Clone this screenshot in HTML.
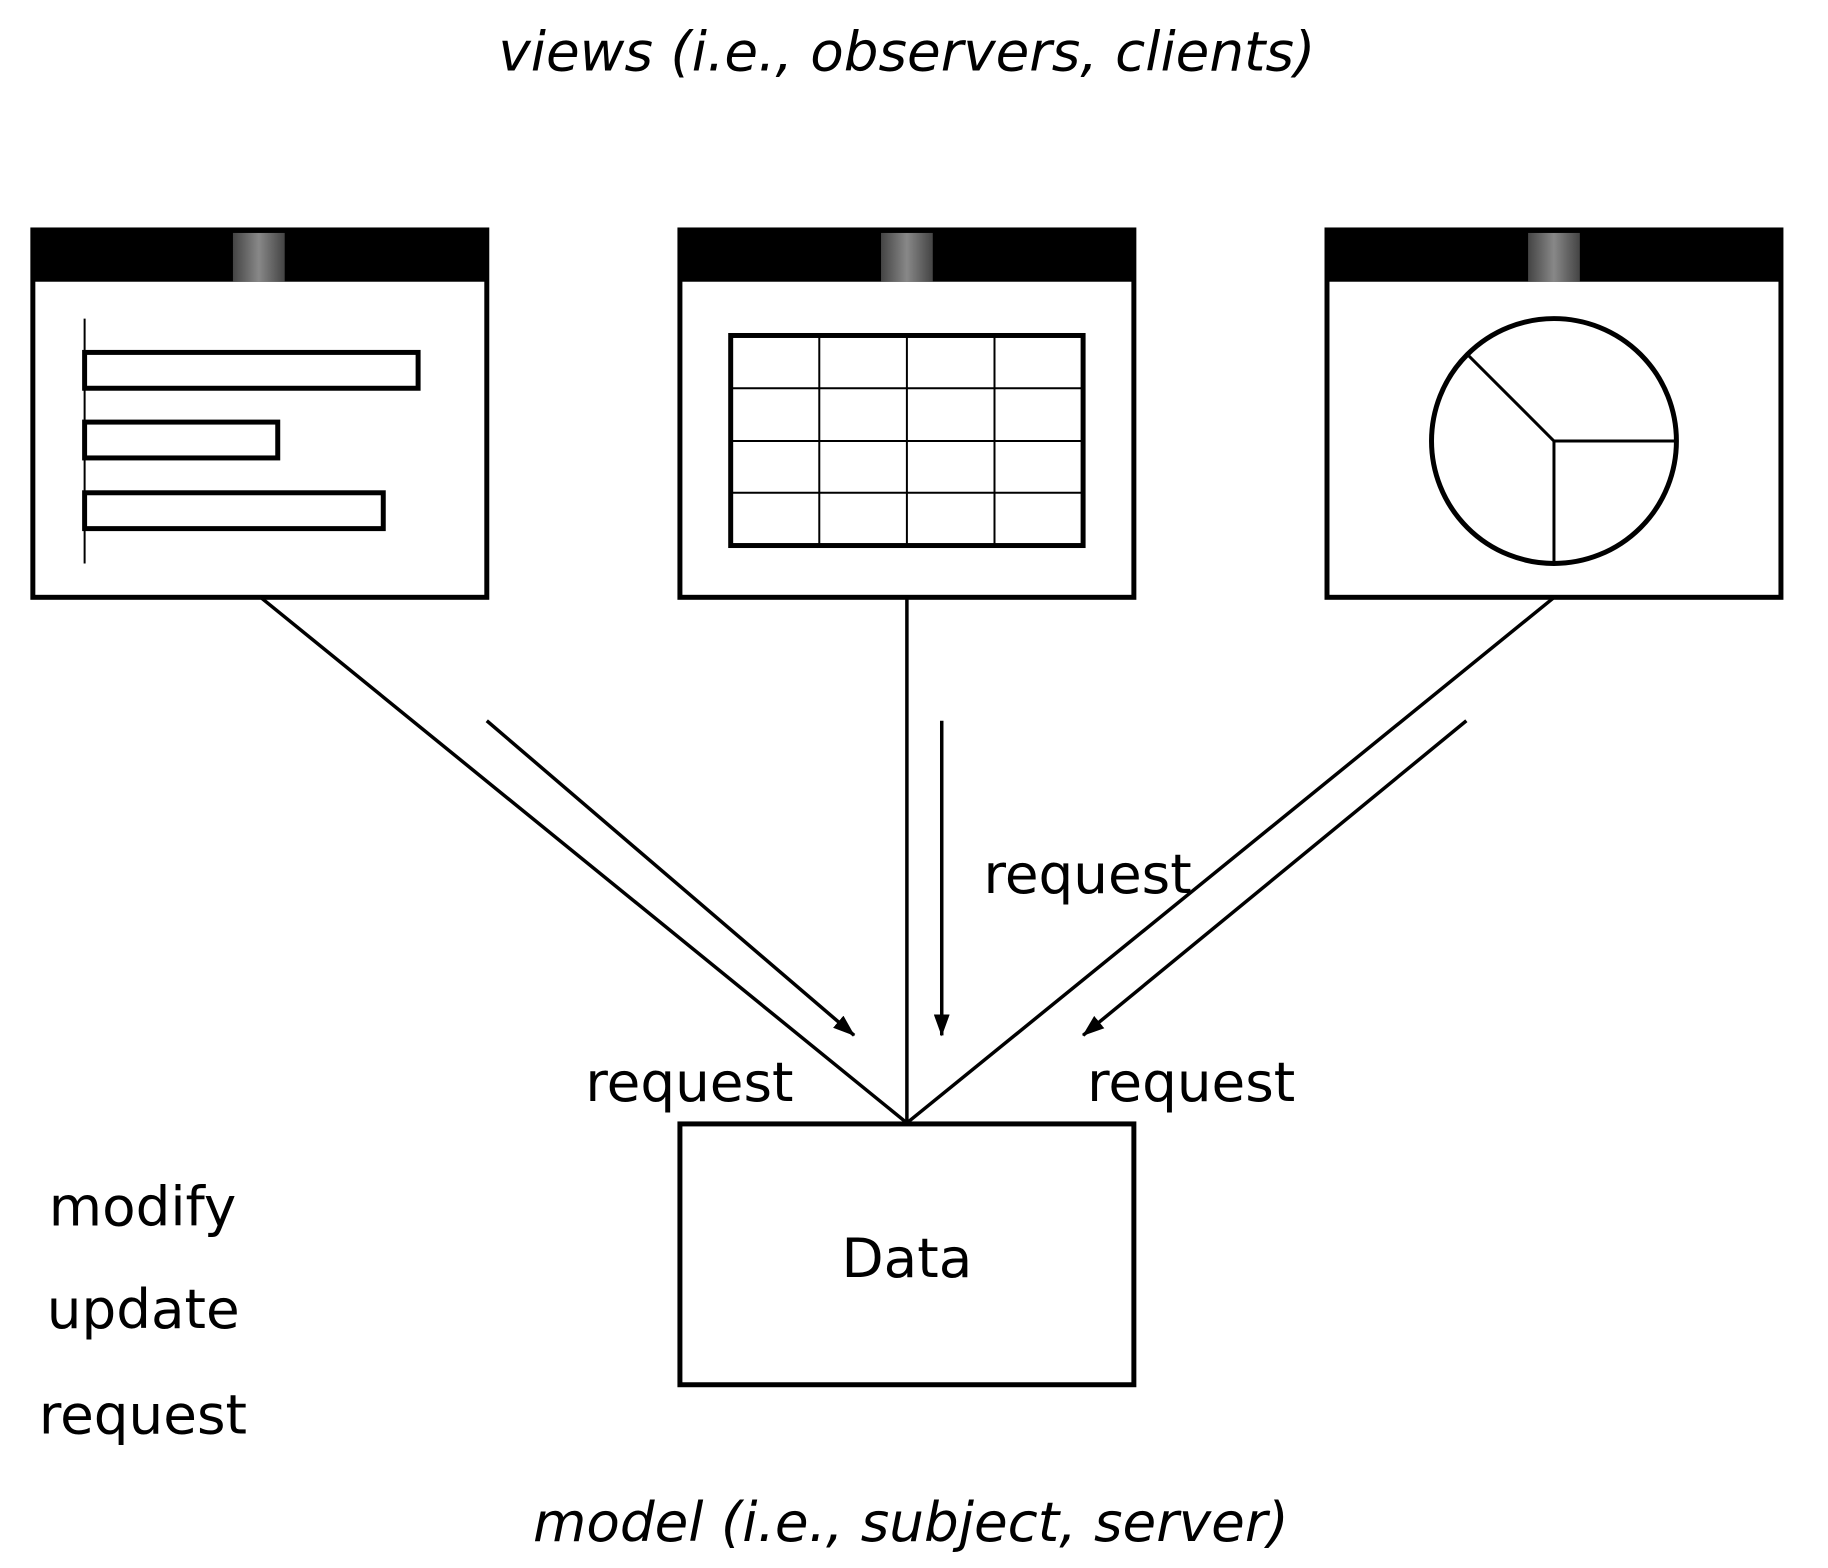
<!DOCTYPE html>
<html><head><meta charset="utf-8"><style>html,body{margin:0;padding:0;background:#fff}svg{display:block}</style></head>
<body>
<svg width="1828" height="1568" viewBox="0 0 1828 1568" xmlns="http://www.w3.org/2000/svg" font-family="'DejaVu Sans','Liberation Sans',sans-serif">
<defs>
<linearGradient id="g" x1="0" x2="1" y1="0" y2="0">
<stop offset="0" stop-color="#444"/><stop offset="0.5" stop-color="#888"/><stop offset="1" stop-color="#444"/>
</linearGradient>
<marker id="ah" markerWidth="22" markerHeight="16" refX="21" refY="8" orient="auto" markerUnits="userSpaceOnUse" viewBox="0 0 22 16">
<path d="M0,0 L22,8 L0,16 Z" fill="#000"/>
</marker>
</defs>
<g transform="translate(-1,1) scale(0.9955)">
<g stroke="#000" fill="none">
<rect x="34" y="230" width="456" height="369" stroke-width="5" fill="#fff"/>
<rect x="32" y="228" width="460" height="54" fill="#000" stroke="none"/>
<rect x="235" y="233" width="52" height="49" fill="url(#g)" stroke="none"/>
<line x1="86" y1="319" x2="86" y2="565" stroke-width="2"/>
<rect x="86" y="353" width="335" height="36" stroke-width="5"/>
<rect x="86" y="423" width="194" height="36" stroke-width="5"/>
<rect x="86" y="494" width="300" height="36" stroke-width="5"/>
<rect x="684" y="230" width="456" height="369" stroke-width="5" fill="#fff"/>
<rect x="682" y="228" width="460" height="54" fill="#000" stroke="none"/>
<rect x="886" y="233" width="52" height="49" fill="url(#g)" stroke="none"/>
<rect x="735" y="336" width="354" height="211" stroke-width="5"/>
<g stroke-width="2">
<line x1="824" y1="336" x2="824" y2="547"/><line x1="912" y1="336" x2="912" y2="547"/><line x1="1000" y1="336" x2="1000" y2="547"/>
<line x1="735" y1="389" x2="1089" y2="389"/><line x1="735" y1="442" x2="1089" y2="442"/><line x1="735" y1="494" x2="1089" y2="494"/>
</g>
<rect x="1334" y="230" width="456" height="369" stroke-width="5" fill="#fff"/>
<rect x="1332" y="228" width="460" height="54" fill="#000" stroke="none"/>
<rect x="1536" y="233" width="52" height="49" fill="url(#g)" stroke="none"/>
<ellipse cx="1562" cy="442" rx="123" ry="123" stroke-width="5"/>
<g stroke-width="3">
<line x1="1562" y1="442" x2="1474" y2="354"/><line x1="1562" y1="442" x2="1684" y2="442"/><line x1="1562" y1="442" x2="1562" y2="565"/>
</g>
<g stroke-width="3.5">
<line x1="264" y1="600" x2="912" y2="1127"/>
<line x1="912" y1="600" x2="912" y2="1127"/>
<line x1="1561" y1="600" x2="912" y2="1127"/>
<line x1="490" y1="723" x2="859" y2="1039" marker-end="url(#ah)"/>
<line x1="947" y1="723" x2="947" y2="1039" marker-end="url(#ah)"/>
<line x1="1474" y1="723" x2="1089" y2="1039" marker-end="url(#ah)"/>
</g>
<rect x="684" y="1128" width="456" height="262" stroke-width="5"/>
</g>
<g fill="#000" font-size="55">
<text x="912" y="1282" text-anchor="middle">Data</text>
<text x="589" y="1105">request</text>
<text x="989" y="896">request</text>
<text x="1093" y="1105">request</text>
<text x="50" y="1230">modify</text>
<text x="48" y="1333">update</text>
<text x="40" y="1439">request</text>
<text x="912" y="70" text-anchor="middle" font-style="italic">views (i.e., observers, clients)</text>
<text x="916" y="1547" text-anchor="middle" font-style="italic">model (i.e., subject, server)</text>
</g>
</g>
</svg>
</body></html>
